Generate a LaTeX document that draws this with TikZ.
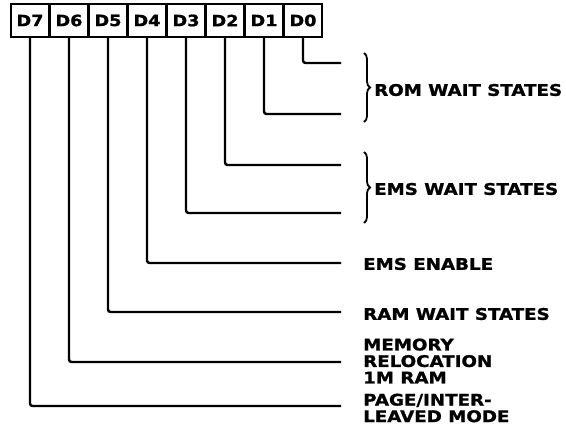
\documentclass[tikz,border=0pt]{standalone}
\usepackage{fontspec}
\newfontfamily\regfont{DejaVu Sans}[FakeStretch=1.14, FakeBold=1.2]
\usepackage{tikz}
\usetikzlibrary{positioning, decorations.pathreplacing}

\tikzset{
  bitbox/.style={draw, line width=1.8pt, minimum width=38pt, minimum height=33pt,
    inner sep=0pt, outer sep=0pt, font=\regfont\bfseries\fontsize{15.5}{16}\selectfont},
  wire/.style={line width=2.4pt, rounded corners=2.5pt},
  lbl/.style={anchor=west, align=left, inner sep=0pt,
    font=\regfont\bfseries\fontsize{16}{16.5}\selectfont},
  grp/.style={decorate, decoration={brace, amplitude=6pt}, line width=1.8pt}
}

\begin{document}
\begin{tikzpicture}[x=1pt, y=-1pt, node distance=1pt]
    \useasboundingbox (0,0) rectangle (566,435);

    % register bits
    \node[bitbox] (d7) at (30,20.5) {D7};
    \node[bitbox, right=of d7] (d6) {D6};
    \node[bitbox, right=of d6] (d5) {D5};
    \node[bitbox, right=of d5] (d4) {D4};
    \node[bitbox, right=of d4] (d3) {D3};
    \node[bitbox, right=of d3] (d2) {D2};
    \node[bitbox, right=of d2] (d1) {D1};
    \node[bitbox, right=of d1] (d0) {D0};

    % line ends
    \coordinate (e0) at (341,63);
    \coordinate (e1) at (341,114);
    \coordinate (e2) at (341,165);
    \coordinate (e3) at (341,213);
    \coordinate (e4) at (341,263);
    \coordinate (e5) at (341,312);
    \coordinate (e6) at (341,362);
    \coordinate (e7) at (341,406);

    \draw[wire] (d0.south) |- (e0);
    \draw[wire] (d1.south) |- (e1);
    \draw[wire] (d2.south) |- (e2);
    \draw[wire] (d3.south) |- (e3);
    \draw[wire] (d4.south) |- (e4);
    \draw[wire] (d5.south) |- (e5);
    \draw[wire] (d6.south) |- (e6);
    \draw[wire] (d7.south) |- (e7);

    % grouped bits
    \coordinate (romtop) at (364,53);
    \coordinate (rombot) at (364,122);
    \coordinate (emstop) at (364,152);
    \coordinate (emsbot) at (364,223);
    \draw[grp] (romtop) -- (rombot);
    \draw[grp] (emstop) -- (emsbot);

    \node[lbl] (rom) at (374,90) {ROM WAIT STATES};
    \node[lbl] (ems) at (374,189) {EMS WAIT STATES};
    \node[lbl] (emsen) at (363,264) {EMS ENABLE};
    \node[lbl] (ram) at (363,314) {RAM WAIT STATES};
    \node[lbl] (reloc) at (363,361) {MEMORY\\RELOCATION\\1M RAM};
    \node[lbl] (page) at (363,408) {PAGE/INTER-\\LEAVED MODE};
\end{tikzpicture}
\end{document}
